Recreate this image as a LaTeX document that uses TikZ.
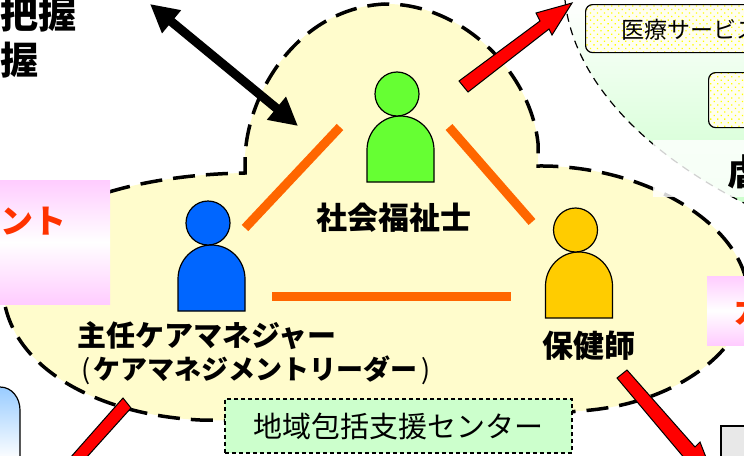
\documentclass[tikz,border=0pt]{standalone}
\usepackage{fontspec}
\setmainfont{Noto Sans CJK JP}
\usetikzlibrary{arrows.meta,patterns.meta}
\definecolor{cloudfill}{HTML}{FFFCCC}
\definecolor{linkorange}{HTML}{FF6600}
\definecolor{pinkside}{HTML}{FFCCFF}
\definecolor{centergreen}{HTML}{CCFFCC}
\definecolor{swgreen}{HTML}{66FF33}
\definecolor{cmblue}{HTML}{0066FF}
\definecolor{phyellow}{HTML}{FFCC00}
\definecolor{sideblue}{HTML}{99CCFF}
\definecolor{sidered}{HTML}{FF3300}
\tikzset{
  personbody/.style={draw=black,line width=1.2pt},
  role/.style={font=\bfseries\fontsize{#1}{#1}\selectfont,inner sep=0pt},
  sidetext/.style={text=sidered,font=\bfseries\fontsize{33}{35}\selectfont,inner sep=0pt},
  link/.style={draw=linkorange,line width=9pt},
  redarrow/.style={draw=black,line width=1pt,fill=red},
  dottedbox/.style={draw=black,rounded corners=7pt,line width=1.2pt,anchor=north west,
    preaction={fill=yellow!6},pattern={Dots[distance=5pt,radius=.9pt,angle=45]},pattern color=yellow},
}
\newcommand{\person}[3]{%
  \draw[personbody,fill=#3] (#1-33.5,#2+88) -- (#1-33.5,#2+56) arc[start angle=180,end angle=360,x radius=33.5,y radius=34] -- (#1+33.5,#2+88) -- cycle;
  \draw[personbody,fill=#3] (#1-3.5,#2) circle[radius=22];
}
\begin{document}
\begin{tikzpicture}[x=1pt,y=-1pt]
\useasboundingbox (0,0) rectangle (744,455);
\begin{scope}
\clip (0,0) rectangle (744,455);
% medical side
\path[top color=white,bottom color=centergreen] (565,0) .. controls (572,70) and (630,145) .. (744,203) -- (744,0) -- cycle;
\draw[dash pattern=on 8pt off 6pt,line width=1.2pt] (565,0) .. controls (572,70) and (630,145) .. (744,203);
\node[dottedbox,minimum width=190pt,minimum height=48pt] (medbox) at (585,4) {};
\node[dottedbox,minimum width=80pt,minimum height=55pt] (carebox) at (708,72) {};
\node[anchor=west,font=\fontsize{23}{25}\selectfont,inner sep=0pt] (medtext) at (621,30) {医療サービス};
% side boxes below the cloud
\draw[line width=1.2pt,top color=sideblue,bottom color=white] (-20,387) -- (0,387) .. controls (12,387) and (20,398) .. (20,410) -- (20,460) -- (-20,460) -- cycle;
\draw[line width=1.5pt,fill=gray!18] (721,426) rectangle (760,470);
% cloud
\draw[fill=cloudfill,dash pattern=on 22pt off 11pt,line width=3.5pt]
  (4,300) .. controls (-10,220) and (110,175) .. (245,173)
  -- (245,157) .. controls (248,90) and (300,8) .. (385,4)
  .. controls (460,3) and (530,70) .. (538,143)
  -- (538,166) .. controls (640,165) and (740,220) .. (748,290)
  .. controls (750,345) and (680,405) .. (579,411)
  .. controls (500,420) and (300,422) .. (200,420)
  .. controls (100,415) and (15,370) .. (4,300) -- cycle;
% washed patch
\fill[white,opacity=.82] (653,140) rectangle (744,197);
\node[anchor=west,font=\bfseries\fontsize{36}{38}\selectfont,inner sep=0pt] (abuse) at (727,172) {虐};
% pink labels
\path[top color=pinkside,bottom color=pinkside,middle color=white] (0,180) rectangle (110,304);
\node[sidetext,anchor=east] (mgmt) at (67,221) {メント};
\path[top color=pinkside,bottom color=pinkside,middle color=white] (707,276) rectangle (744,345);
\node[sidetext,anchor=west] (conf) at (733,311) {カ};
% top left text
\node[role=38,anchor=west] (graspa) at (0,14) {把握};
\node[role=38,anchor=west] (graspb) at (0,60) {握};
% links
\coordinate (sw1) at (245,228); \coordinate (sw2) at (340,127);
\coordinate (se1) at (449,127); \coordinate (se2) at (532,222);
\coordinate (hb1) at (272,296); \coordinate (hb2) at (511,296);
\draw[link] (sw1) -- (sw2);
\draw[link] (se1) -- (se2);
\draw[link] (hb1) -- (hb2);
% people
\person{400.5}{94}{swgreen}
\person{211.5}{223}{cmblue}
\person{579}{230}{phyellow}
\node[role=31] (swlabel) at (394,218) {社会福祉士};
\node[role=29,anchor=west] (cmlabel) at (77,336) {主任ケアマネジャー};
\node[role=27,anchor=west] (cmlabelb) at (81,370) {{\mdseries (}\kern3pt ケアマネジメントリーダー\kern4pt{\mdseries )}};
\node[role=31] (phlabel) at (589,346) {保健師};
% center label
\node[draw=black,dash pattern=on 4pt off 3pt,fill=centergreen,line width=1.5pt,minimum width=347pt,minimum height=54pt,font=\fontsize{29}{31}\selectfont,inner sep=0pt] (center) at (398.5,426) {地域包括支援センター};
% arrows
\draw[black,line width=9pt,{Triangle[width=28pt,length=28pt]}-{Triangle[width=28pt,length=28pt]}] (150,4) -- (298,126);
\draw[redarrow] (459,81) -- (468,92) -- (549,29) -- (552,35) -- (572,3) -- (536,13) -- (540,21) -- cycle;
\draw[redarrow] (131,408) -- (123,398) -- (70,458) -- (86,458) -- cycle;
\draw[redarrow] (617,378) -- (627,370) -- (695,447) -- (700,442) -- (707,460) -- (686,460) -- cycle;
\end{scope}
\end{tikzpicture}
\end{document}
